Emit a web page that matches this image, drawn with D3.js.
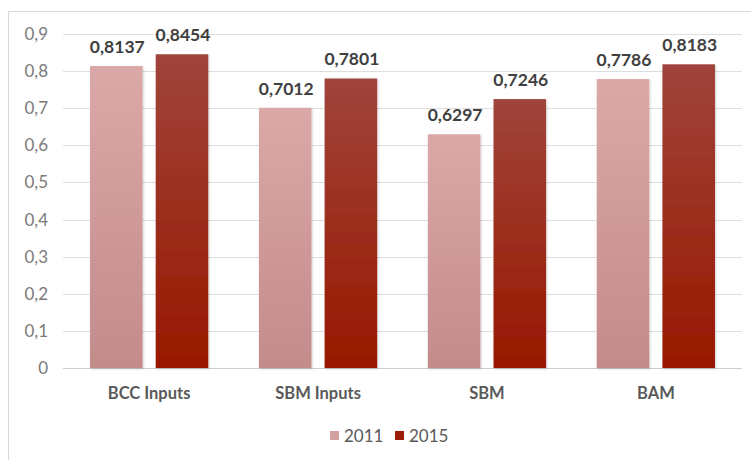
<!DOCTYPE html>
<html><head><meta charset="utf-8">
<script src="https://cdn.jsdelivr.net/npm/d3@7/dist/d3.min.js"></script>
<style>body{margin:0;background:#fff}svg{display:block}</style>
</head><body>
<script>
const categories = ["BCC Inputs", "SBM Inputs", "SBM", "BAM"];
const seriesNames = ["2011", "2015"];
const values2011 = [0.8137, 0.7012, 0.6297, 0.7786];
const values2015 = [0.8454, 0.7801, 0.7246, 0.8183];
const valueLabels2011 = ["0,8137", "0,7012", "0,6297", "0,7786"];
const valueLabels2015 = ["0,8454", "0,7801", "0,7246", "0,8183"];
const yTicks = [0, 0.1, 0.2, 0.3, 0.4, 0.5, 0.6, 0.7, 0.8, 0.9];

const W = 751, H = 460;
const svg = d3.select("body").append("svg").attr("width", W).attr("height", H);
const font = "Lato, 'Open Sans', sans-serif";

// frame
svg.append("rect").attr("x", 8.5).attr("y", 11.5).attr("width", 760).attr("height", 460)
  .attr("fill", "#fff").attr("stroke", "#d9d9d9").attr("stroke-width", 1);

const defs = svg.append("defs");
const g1 = defs.append("linearGradient").attr("id", "g2011").attr("x1", 0).attr("y1", 0).attr("x2", 0).attr("y2", 1);
g1.append("stop").attr("offset", "0%").attr("stop-color", "#dba8a8");
g1.append("stop").attr("offset", "100%").attr("stop-color", "#c48b8b");
const g2 = defs.append("linearGradient").attr("id", "g2015").attr("x1", 0).attr("y1", 0).attr("x2", 0).attr("y2", 1);
g2.append("stop").attr("offset", "0%").attr("stop-color", "#a0443b");
g2.append("stop").attr("offset", "100%").attr("stop-color", "#981800");
const f = defs.append("filter").attr("id", "sh").attr("x", "-20%").attr("y", "-20%").attr("width", "140%").attr("height", "140%");
f.append("feDropShadow").attr("dx", 1).attr("dy", 1).attr("stdDeviation", 1.2).attr("flood-color", "#000").attr("flood-opacity", 0.18);

const x0 = 63, x1 = 742;
const y = d3.scaleLinear().domain([0, 0.9]).range([368, 34]);
const x = d3.scaleBand().domain(categories).range([x0, x1]).paddingInner(0.3).paddingOuter(0.16);
const xs = d3.scaleBand().domain(seriesNames).range([0, x.bandwidth()]).paddingInner(0.2);

// gridlines
svg.append("g").selectAll("line").data(yTicks).join("line")
  .attr("x1", x0).attr("x2", x1)
  .attr("y1", d => Math.round(y(d)) + 0.5).attr("y2", d => Math.round(y(d)) + 0.5)
  .attr("stroke", d => d === 0 ? "#cfcfcf" : "#dedede").attr("stroke-width", 1);

// y axis labels
const yAxis = d3.axisLeft(y).tickValues(yTicks).tickSize(0).tickPadding(0)
  .tickFormat(d => d === 0 ? "0" : d3.format(".1f")(d).replace(".", ","));
const ya = svg.append("g").attr("transform", "translate(48,0)").call(yAxis);
ya.select(".domain").remove();
ya.selectAll("text").attr("font-family", font).attr("font-size", 17).attr("fill", "#7a7a7a");

const series = [
  {name: "2011", vals: values2011, labels: valueLabels2011, fill: "url(#g2011)"},
  {name: "2015", vals: values2015, labels: valueLabels2015, fill: "url(#g2015)"}
];

series.forEach(s => {
  const g = svg.append("g");
  g.selectAll("rect").data(categories).join("rect")
    .attr("x", (c) => x(c) + xs(s.name))
    .attr("width", xs.bandwidth())
    .attr("y", (c, i) => y(s.vals[i]))
    .attr("height", (c, i) => y(0) - y(s.vals[i]))
    .attr("fill", s.fill).attr("filter", "url(#sh)");
  g.selectAll("text").data(categories).join("text")
    .attr("x", (c) => x(c) + xs(s.name) + xs.bandwidth() / 2 + 1)
    .attr("y", (c, i) => y(s.vals[i]) - 13)
    .attr("text-anchor", "middle")
    .attr("font-family", font).attr("font-weight", "bold").attr("font-size", 17.5)
    .attr("fill", "#404040")
    .text((c, i) => s.labels[i]);
});

// x axis labels
const xAxis = d3.axisBottom(x).tickSize(0).tickPadding(0);
const xa = svg.append("g").attr("transform", "translate(0,387)").call(xAxis);
xa.select(".domain").remove();
xa.selectAll("text").attr("font-family", font).attr("font-weight", "bold").attr("font-size", 16.5)
  .attr("fill", "#595959").attr("dy", "0.71em");

// legend
const legend = svg.append("g");
const legendX = [330, 395];
const legendColors = ["#d3a0a0", "#9c1e08"];
seriesNames.forEach((n, i) => {
  legend.append("rect").attr("x", legendX[i]).attr("y", 431).attr("width", 9).attr("height", 9).attr("fill", legendColors[i]);
  legend.append("text").attr("x", legendX[i] + 14).attr("y", 442)
    .attr("font-family", font).attr("font-size", 17).attr("fill", "#595959").text(n);
});
</script>
</body></html>
